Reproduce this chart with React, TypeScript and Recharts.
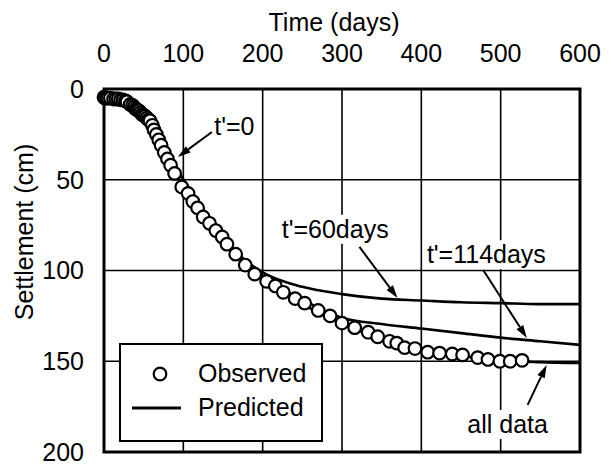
import {
  ComposedChart,
  Line,
  Scatter,
  XAxis,
  YAxis,
  CartesianGrid,
  ReferenceArea,
  ReferenceLine,
  ReferenceDot,
} from "recharts";

const FONT = "'Liberation Sans', Arial, sans-serif";

// observed settlement (days, cm)
const obsDays = [
  0, 1, 3, 5, 8, 12, 15, 18, 21, 24, 27, 29, 33, 36, 38, 40, 42, 44, 46, 48, 50,
  52, 54, 56, 58, 61, 63, 66, 69, 72, 76, 80, 84, 89, 98, 106, 112, 118, 125,
  133, 141, 149, 155, 166, 178, 190, 205, 216, 226, 241, 253, 270, 285, 300,
  316, 333, 345, 360, 369, 379, 392, 408, 423, 439, 452, 471, 484, 499, 512, 527,
];
const obsCm = [
  4.5, 5, 5, 5, 5, 5.5, 5.5, 5.5, 6, 6, 6.5, 7, 8.5, 9, 10, 11, 11.5, 12, 13, 14,
  14.5, 15, 16, 17, 17.5, 20, 22.5, 25, 28, 31, 35, 38.5, 42, 46.5, 54, 57.5, 62,
  65.5, 70.5, 74, 78, 81.5, 85.5, 91, 97, 102, 106, 108.5, 112, 115.5, 118, 122,
  125, 129, 131.5, 134, 136.5, 139, 140, 142.5, 143, 145, 145.5, 146, 146.5, 148,
  149, 150, 150, 149.5,
];

// predicted curves
const predDays = [88, 100, 120, 140, 160, 180, 200, 250, 300, 350, 400, 450, 500, 550, 600];
const pred60 = [41, 50, 63, 76, 87, 95, 101, 109, 113, 115.5, 116.5, 117.5, 118, 118.5, 118.5];
const pred114 = [41, 50, 63, 76, 87, 96, 103.5, 116, 126, 129.5, 132, 134.5, 137, 139, 141];
const predAll = [41, 50, 63, 76, 87, 96.5, 104.5, 118.5, 129.5, 137.5, 143, 147, 149.5, 150.5, 151];

const xTicks = [0, 100, 200, 300, 400, 500, 600];
const yTicks = [0, 50, 100, 150, 200];

// annotation text (days, cm at baseline start) and arrows
const notes = [
  { text: "t'=0", x: 139, y: 25.3, w: 46, bg: false },
  { text: "t'=60days", x: 224, y: 82, w: 122, bg: true },
  { text: "t'=114days", x: 407, y: 96, w: 130, bg: true },
  { text: "all data", x: 458, y: 189.5, w: 85, bg: true },
];
const arrows = [
  { from: [136, 23.7], to: [93, 37.5] },
  { from: [322, 87], to: [370, 115.2] },
  { from: [478, 99.7], to: [533, 137.2] },
  { from: [534, 174], to: [558, 152] },
];

const observed = obsDays.map((t, i) => ({ t, obs: obsCm[i] }));
const predicted = predDays.map((t, i) => ({
  t,
  p60: pred60[i],
  p114: pred114[i],
  pAll: predAll[i],
}));

const Circle = (props: any) => (
  <circle cx={props.cx} cy={props.cy} r={6.3} fill="#fff" stroke="#000" strokeWidth={2.2} />
);

const Arrow = (props: any) => {
  const { x1, y1, x2, y2 } = props;
  const a = Math.atan2(y2 - y1, x2 - x1);
  const len = 13;
  const hw = 4;
  const bx = x2 - len * Math.cos(a);
  const by = y2 - len * Math.sin(a);
  const px = -Math.sin(a) * hw;
  const py = Math.cos(a) * hw;
  return (
    <g>
      <line x1={x1} y1={y1} x2={bx} y2={by} stroke="#000" strokeWidth={2} />
      <polygon points={`${x2},${y2} ${bx + px},${by + py} ${bx - px},${by - py}`} fill="#000" />
    </g>
  );
};

const Note = (text: string, w: number, bg: boolean) => (props: any) => (
  <g>
    {bg && <rect x={props.cx - 4} y={props.cy - 23} width={w + 8} height={29} fill="#fff" />}
    <text x={props.cx} y={props.cy} fontSize={25} fontFamily={FONT} fill="#000">
      {text}
    </text>
  </g>
);

export default function App() {
  return (
    <div style={{ position: "absolute", left: 0, top: 0, width: 611, height: 466, background: "#fff" }}>
      <ComposedChart
        width={611}
        height={466}
        margin={{ top: 49, right: 31, bottom: 14, left: 50 }}
      >
        <CartesianGrid stroke="#000" strokeWidth={1.6} />
        <XAxis
          xAxisId={0}
          orientation="top"
          type="number"
          dataKey="t"
          domain={[0, 600]}
          ticks={xTicks}
          height={40}
          axisLine={false}
          tickLine={false}
          tickSize={0}
          tickMargin={27}
          tick={{ fill: "#000", fontSize: 25, fontFamily: FONT }}
          label={{
            content: () => (
              <text x={334} y={31} textAnchor="middle" fontSize={25} fontFamily={FONT} fill="#000">
                Time (days)
              </text>
            ),
          }}
        />
        <YAxis
          yAxisId={0}
          type="number"
          reversed
          domain={[0, 200]}
          ticks={yTicks}
          width={54}
          axisLine={false}
          tickLine={false}
          tickSize={0}
          tickMargin={20}
          tick={{ fill: "#000", fontSize: 25, fontFamily: FONT }}
          label={{
            content: () => (
              <text
                transform="translate(33,232) rotate(-90)"
                textAnchor="middle"
                fontSize={25}
                fontFamily={FONT}
                fill="#000"
              >
                Settlement (cm)
              </text>
            ),
          }}
        />
        {notes.map((n) => (
          <ReferenceDot
            key={n.text}
            x={n.x}
            y={n.y}
            r={0}
            ifOverflow="visible"
            shape={Note(n.text, n.w, n.bg)}
          />
        ))}
        {arrows.map((a, i) => (
          <ReferenceLine
            key={i}
            segment={[
              { x: a.from[0], y: a.from[1] },
              { x: a.to[0], y: a.to[1] },
            ]}
            ifOverflow="visible"
            shape={Arrow}
          />
        ))}
        <Line data={predicted} type="monotone" dataKey="p60" stroke="#000" strokeWidth={2.6} dot={false} isAnimationActive={false} />
        <Line data={predicted} type="monotone" dataKey="p114" stroke="#000" strokeWidth={2.6} dot={false} isAnimationActive={false} />
        <Line data={predicted} type="monotone" dataKey="pAll" stroke="#000" strokeWidth={2.6} dot={false} isAnimationActive={false} />
        <Scatter data={observed} dataKey="obs" shape={Circle} isAnimationActive={false} />
        <ReferenceArea
          x1={0}
          x2={600}
          y1={0}
          y2={200}
          fill="none"
          fillOpacity={0}
          stroke="#000"
          strokeWidth={3}
          strokeOpacity={1}
          ifOverflow="visible"
        />
      </ComposedChart>
      <div
        style={{
          position: "absolute",
          left: 119,
          top: 343,
          width: 200,
          height: 95,
          border: "2px solid #000",
          background: "#fff",
          fontFamily: FONT,
          fontSize: 25,
          color: "#000",
        }}
      >
        <svg width={60} height={95} style={{ position: "absolute", left: 0, top: 0 }}>
          <circle cx={39} cy={29} r={6.3} fill="#fff" stroke="#000" strokeWidth={2.2} />
          <line x1={11} y1={63} x2={60} y2={63} stroke="#000" strokeWidth={3} />
        </svg>
        <div style={{ position: "absolute", left: 77, top: 14, lineHeight: "29px" }}>Observed</div>
        <div style={{ position: "absolute", left: 77, top: 48, lineHeight: "29px" }}>Predicted</div>
      </div>
    </div>
  );
}
